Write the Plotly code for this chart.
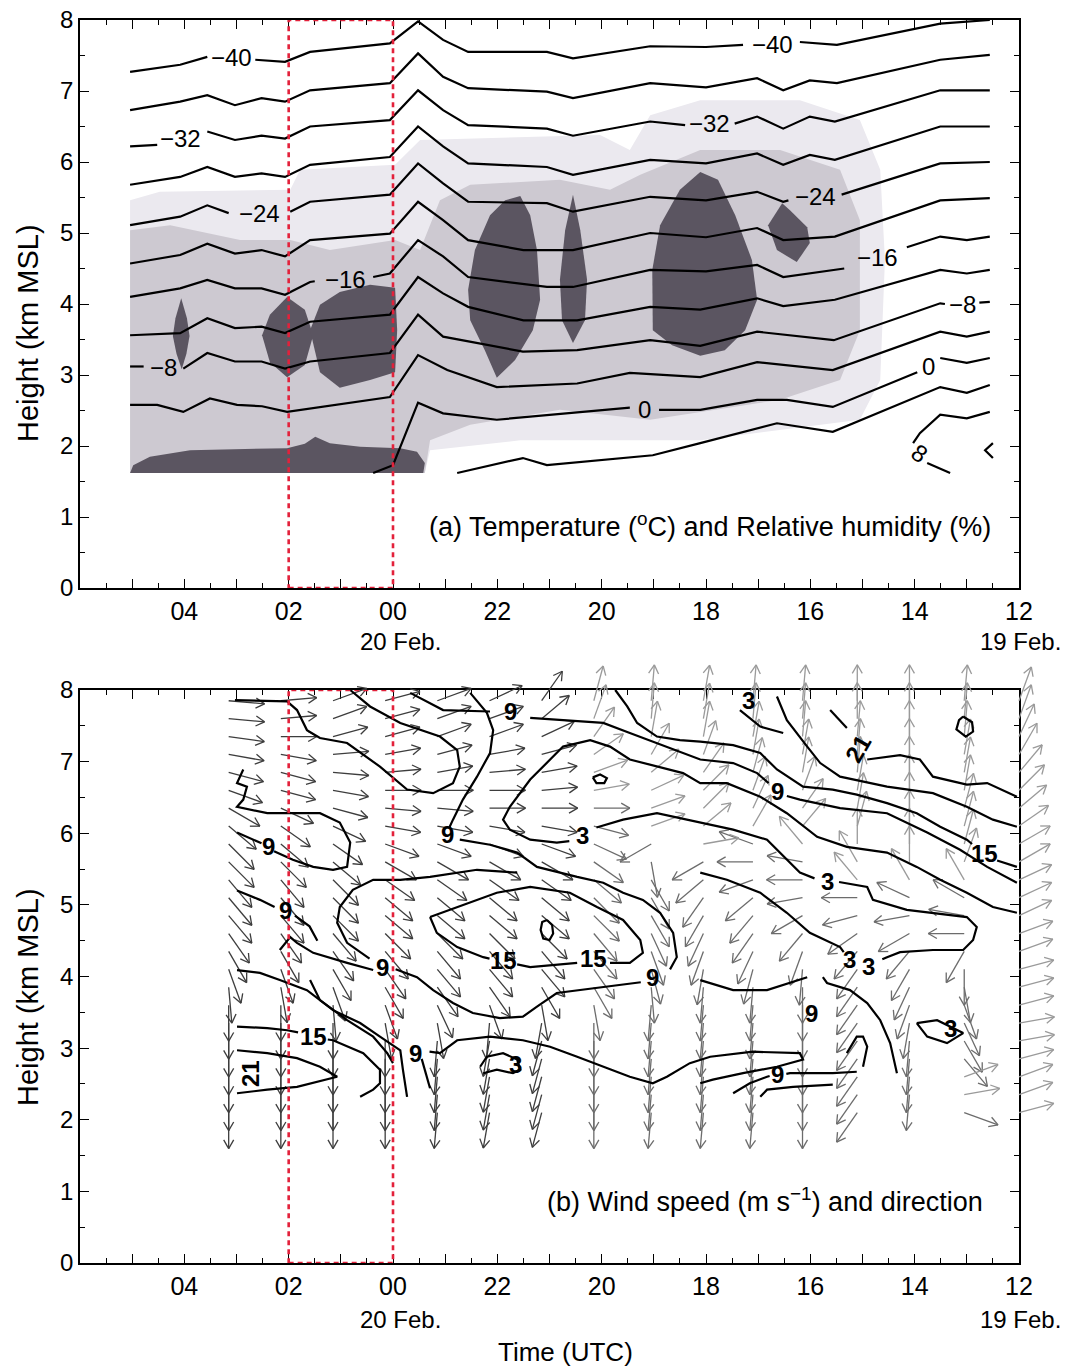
import math
import plotly.graph_objects as go

# ---------------------------------------------------------------- data
# time coordinate: hours after 12 UTC 19 Feb (axis drawn reversed)
TICK_HOURS = [17, 16, 15, 14, 13, 12, 11, 10, 9, 8, 7, 6, 5, 4, 3, 2, 1, 0]
TICK_TEXT = [" ", "04", " ", "02", " ", "00", " ", "22", " ", "20", " ", "18", " ", "16", " ", "14", " ", "12"]
MINOR_HOURS = [17.5, 16.5, 15.5, 14.5, 13.5, 12.5, 11.5, 10.5, 9.5, 8.5, 7.5, 6.5, 5.5, 4.5, 3.5, 2.5, 1.5, 0.5]
Y_TICKS = [0, 1, 2, 3, 4, 5, 6, 7, 8]
Y_MINOR = [0.5, 1.5, 2.5, 3.5, 4.5, 5.5, 6.5, 7.5]
DATE_LABELS = ["20 Feb.", "19 Feb."]
DATE_HOURS = [11.85, -0.84]
DATE_ANCHOR = ["center", "right"]
BOX_HOURS = [14, 12]          # red dashed period

# ---- (a) isotherms (hour, km); None = gap for label
ISO_M40 = [(17.04,7.27),(16.08,7.37),(15.56,7.48),None,(14.64,7.44),(14.07,7.41),(13.59,7.55),(12.06,7.67),(11.52,7.98),(11.04,7.72),(10.56,7.55),(9.05,7.55),(8.55,7.46),(7.07,7.63),(6.0,7.62),(5.29,7.65),None,(4.20,7.69),(3.49,7.65),(1.51,7.95),(0.56,8.0)]
ISO_M36 = [(17.04,6.73),(16.08,6.85),(15.56,6.94),(15.03,6.80),(14.52,6.90),(14.07,6.85),(13.59,7.01),(12.06,7.11),(11.52,7.53),(11.04,7.20),(10.56,7.04),(9.05,6.99),(8.55,6.90),(7.07,7.11),(6.0,7.05),(5.02,7.18),(4.52,7.01),(4.01,7.15),(3.49,7.11),(1.51,7.44),(0.56,7.51)]
ISO_M32 = [(17.04,6.22),(16.52,6.24),None,(15.56,6.43),(15.03,6.31),(14.52,6.37),(14.07,6.33),(13.59,6.50),(12.06,6.59),(11.52,7.01),(11.04,6.73),(10.56,6.52),(9.05,6.47),(8.55,6.37),(7.07,6.57),(6.40,6.52),None,(5.45,6.54),(5.02,6.64),(4.52,6.47),(4.01,6.64),(3.53,6.57),(1.51,7.01),(0.56,7.01)]
ISO_M28 = [(17.04,5.68),(16.08,5.79),(15.56,5.93),(15.03,5.79),(14.52,5.84),(14.07,5.79),(13.59,5.96),(12.06,6.07),(11.52,6.50),(11.04,6.22),(10.56,5.98),(9.05,5.93),(8.55,5.82),(7.07,6.03),(6.0,5.98),(5.02,6.12),(4.52,5.96),(4.01,6.10),(3.53,6.03),(1.51,6.50),(0.56,6.50)]
ISO_M24 = [(17.04,5.11),(16.08,5.23),(15.56,5.39),(15.15,5.28),None,(13.97,5.30),(13.59,5.44),(12.06,5.54),(11.52,5.98),(11.04,5.70),(10.56,5.44),(9.05,5.42),(8.55,5.30),(7.07,5.51),(6.0,5.46),(5.02,5.58),(4.52,5.44),(4.42,5.46),None,(3.40,5.54),(1.51,5.98),(0.56,6.00)]
ISO_M20 = [(17.04,4.57),(16.08,4.69),(15.56,4.85),(15.03,4.71),(14.52,4.76),(14.07,4.67),(13.59,4.90),(12.06,4.99),(11.52,5.44),(11.04,5.18),(10.56,4.90),(9.5,4.76),(8.55,4.76),(7.07,5.00),(6.0,4.94),(5.02,5.07),(4.52,4.90),(3.53,4.95),(1.51,5.46),(0.56,5.49)]
ISO_M16 = [(17.04,4.10),(16.08,4.22),(15.56,4.34),(15.03,4.22),(14.52,4.22),(14.07,4.13),(13.59,4.31),(13.50,4.32),None,(12.38,4.38),(12.06,4.43),(11.52,4.90),(11.04,4.67),(10.56,4.38),(9.05,4.24),(8.55,4.24),(7.07,4.48),(6.0,4.46),(5.02,4.55),(4.52,4.38),(3.35,4.50),None,(2.15,4.80),(1.51,4.95),(1.0,4.90),(0.56,4.95)]
ISO_M12 = [(17.04,3.56),(16.08,3.59),(15.56,3.80),(15.03,3.66),(14.52,3.68),(14.07,3.59),(13.59,3.75),(12.06,3.85),(11.52,4.38),(11.04,4.15),(10.56,3.96),(9.5,3.77),(8.47,3.77),(7.07,3.96),(6.11,3.92),(5.02,4.08),(4.52,3.97),(3.53,4.06),(1.51,4.48),(1.0,4.43),(0.56,4.48)]
ISO_M8 = [(17.04,3.12),(16.78,3.12),None,(16.02,3.09),(15.56,3.31),(15.03,3.19),(14.52,3.19),(14.07,3.09),(13.59,3.19),(12.06,3.31),(11.52,3.85),(11.04,3.54),(9.51,3.33),(8.47,3.35),(7.07,3.49),(6.11,3.41),(5.02,3.61),(3.55,3.49),(1.51,4.01),(1.42,4.0),None,(0.76,4.02),(0.56,4.03)]
ISO_M4 = [(17.04,2.58),(16.52,2.58),(16.02,2.48),(15.51,2.67),(14.99,2.58),(14.51,2.56),(14.03,2.48),(12.06,2.69),(11.52,3.28),(10.96,3.07),(10.01,2.83),(8.47,2.88),(7.46,3.03),(6.11,2.97),(5.02,3.18),(3.57,3.07),(1.51,3.61),(1.0,3.54),(0.56,3.61)]
ISO_0 = [(12.38,1.62),(12.0,1.73),(11.52,2.61),(11.04,2.46),(10.01,2.37),(7.46,2.54),None,(6.90,2.51),(6.11,2.51),(5.02,2.65),(4.45,2.65),(3.57,2.55),(1.95,3.04),None,(1.51,3.24),(1.0,3.17),(0.56,3.24)]
ISO_P4 = [(10.77,1.62),(9.51,1.83),(9.05,1.73),(7.02,1.87),(6.11,2.04),(4.64,2.32),(3.57,2.20),(1.51,2.83),(1.0,2.75),(0.56,2.86)]
ISO_P8 = [(0.56,2.48),(1.0,2.39),(1.51,2.44),(1.90,2.18),(2.03,2.04),None,(1.76,1.76),(1.32,1.62)]
ISO_P8B = [(0.50,2.04),(0.65,1.94),(0.50,1.83)]
ISOTHERMS = [ISO_M40, ISO_M36, ISO_M32, ISO_M28, ISO_M24, ISO_M20, ISO_M16, ISO_M12,
             ISO_M8, ISO_M4, ISO_0, ISO_P4, ISO_P8, ISO_P8B]
T_LABEL_TEXT = ["\u221240", "\u221240", "\u221232", "\u221232", "\u221224", "\u221224", "\u221216", "\u221216", "\u22128", "\u22128", "0", "0", "8"]
T_LABEL_X = [15.09, 4.72, 16.08, 5.93, 14.55, 3.91, 12.92, 2.72, 16.40, 1.08, 7.17, 1.74, 1.90]
T_LABEL_Z = [7.47, 7.66, 6.33, 6.54, 5.28, 5.51, 4.35, 4.66, 3.11, 4.00, 2.52, 3.12, 1.90]
T_LABEL_ANGLE = [0, 0, 0, 0, 0, 0, 0, 0, 0, 0, 0, 0, 35]

# ---- (a) relative humidity shading polygons
RH_LIGHT = [(17.04,1.62),(17.04,5.46),(16.47,5.58),(13.97,5.61),(13.78,5.89),(11.96,5.96),(11.48,6.31),(8.03,6.38),(7.46,6.17),(7.07,6.66),(6.11,6.87),(4.20,6.87),(3.05,6.59),(2.66,5.89),(2.57,4.62),(2.66,2.93),(3.05,2.37),(6.11,2.08),(9.56,2.08),(11.29,1.94),(11.39,1.62)]
RH_MED = [(17.04,1.62),(17.04,5.04),(16.27,5.11),(14.93,4.90),(13.97,4.90),(13.21,4.76),(11.96,4.90),(11.48,4.76),(11.10,5.46),(10.52,5.68),(8.80,5.75),(7.84,5.61),(7.26,5.82),(6.11,6.17),(4.58,6.17),(3.43,5.89),(3.05,5.18),(3.05,3.63),(3.43,2.93),(4.58,2.65),(7.07,2.37),(8.80,2.51),(10.52,2.30),(11.29,2.08),(11.39,1.62)]
RH_DARK_BAND = [(17.04,1.62),(16.98,1.73),(16.66,1.85),(15.89,1.94),(14.03,1.97),(13.69,2.03),(13.49,2.13),(13.21,2.04),(12.63,1.99),(11.86,1.97),(11.54,1.92),(11.39,1.76),(11.42,1.62)]
RH_DARK_1 = [(16.06,4.08),(15.95,3.80),(15.90,3.55),(15.96,3.30),(16.05,3.08),(16.15,3.30),(16.22,3.55),(16.17,3.80)]
RH_DARK_2 = [(14.51,3.56),(14.36,3.85),(14.03,4.10),(13.69,3.92),(13.53,3.56),(13.69,3.14),(14.03,2.97),(14.36,3.18)]
RH_DARK_3 = [(13.59,3.63),(13.40,3.99),(13.02,4.17),(12.44,4.27),(11.96,4.23),(11.92,3.63),(11.96,3.04),(12.44,2.93),(13.02,2.82),(13.40,3.04)]
RH_DARK_4 = [(10.01,2.96),(10.24,3.35),(10.52,3.77),(10.56,4.20),(10.43,4.76),(10.14,5.25),(9.85,5.46),(9.56,5.52),(9.37,5.25),(9.24,4.76),(9.18,4.06),(9.32,3.63),(9.66,3.21)]
RH_DARK_5 = [(8.55,5.54),(8.41,5.04),(8.28,4.34),(8.32,3.77),(8.55,3.45),(8.76,3.77),(8.80,4.34),(8.70,5.04)]
RH_DARK_6 = [(7.02,3.63),(7.03,4.48),(6.88,5.11),(6.50,5.61),(6.11,5.86),(5.77,5.75),(5.44,5.25),(5.12,4.62),(5.02,4.06),(5.25,3.63),(5.64,3.35),(6.11,3.27),(6.65,3.42)]
RH_DARK_7 = [(4.54,5.42),(4.39,5.32),(4.06,5.08),(4.01,4.86),(4.26,4.59),(4.64,4.76),(4.81,5.11)]
RH_DARK = [RH_DARK_BAND, RH_DARK_1, RH_DARK_2, RH_DARK_3, RH_DARK_4, RH_DARK_5, RH_DARK_6, RH_DARK_7]

# ---- (b) wind-speed isotachs (hour, km)
WS_01 = [(12.82,8.0),(12.44,7.77),(11.86,7.54),(11.10,7.35),(10.77,7.16),(10.72,6.93),(10.85,6.70),(11.23,6.56),(11.73,6.61),(12.25,6.93),(12.88,7.26),(13.40,7.33),(13.65,7.44),(13.84,7.72),(14.03,7.84),(15.03,7.86)]
WS_02 = [(11.67,7.96),(11.04,7.72),(10.14,7.70),None,(9.37,7.61),(7.97,7.54),(7.46,7.40),(6.94,7.26),(6.11,7.03),(5.48,6.98),(5.02,6.84),(4.80,6.70),None,(4.45,6.52),(4.20,6.47),(3.43,6.35),(2.53,6.28),(1.76,6.01),(1.13,5.77),(0.61,5.53),(0.04,5.31)]
WS_03 = [(7.74,8.0),(7.51,7.77),(7.32,7.54),(6.94,7.35),(6.50,7.30),(6.11,7.28),(5.48,7.23),(4.96,7.12),(4.64,6.89),(4.14,6.65),(3.57,6.61),(3.11,6.54),(2.53,6.42),(1.96,6.28),(1.51,6.09),(1.0,5.91),(0.90,5.85),None,(0.42,5.62),(0.04,5.53)]
WS_04 = [(3.62,7.72),(3.30,7.47),None,(2.91,7.03),(2.28,7.09),(1.90,7.03),(1.65,6.79),(1.00,6.68),(0.61,6.70),(0.04,6.51)]
WS_05 = [(4.64,7.91),(4.45,7.58),(4.06,7.21),(3.81,6.98),(3.43,6.79),(2.53,6.65),(1.65,6.56),(1.00,6.37),(0.50,6.19),(0.04,6.09)]
WS_06 = [(5.35,7.72),(4.96,7.49),(4.52,7.40)]
WS_07 = [(0.04,4.89),(0.50,4.97),(1.00,5.17),(1.51,5.35),(1.96,5.53),(2.53,5.73),(3.30,5.81),(3.87,5.95),(4.45,6.28),(4.96,6.51),(5.60,6.70),(6.11,6.70),(6.44,6.84),(6.94,6.93),(7.46,7.03),(7.84,7.21),(8.22,7.30),(8.74,7.21),(9.05,6.98),(9.37,6.75),(9.76,6.37),(9.89,6.19),(9.76,6.05),(9.37,5.91),(8.86,5.87),(8.62,5.89),None,(8.10,6.08),(7.59,6.19),(6.94,6.28),(6.11,6.15),(5.48,6.05),(4.83,5.91),(4.45,5.63),(4.20,5.45),(3.92,5.37),None,(3.45,5.32),(2.91,5.25),(2.80,5.07),(2.15,4.93),(1.00,4.83),(0.81,4.69),(0.88,4.51),(1.07,4.37),(1.65,4.37),(2.28,4.34),(2.53,4.27),(2.62,4.24)]
WS_08 = [(6.11,5.45),(5.60,5.35),(4.96,5.17),(4.45,4.89),(4.01,4.61),(3.43,4.41),(3.36,4.34)]
WS_09 = [(10.52,7.96),(10.20,7.68),(10.08,7.44),(10.14,7.12),(10.39,6.79),(10.66,6.47),(10.85,6.19),(10.92,6.08),None,(10.72,5.91),(10.14,5.84),(9.62,5.73),(9.24,5.53),(8.47,5.39),(7.97,5.31),(7.59,5.17),(7.21,5.07),(6.88,4.89),(6.63,4.61),(6.56,4.27),(6.69,4.10),None,(7.25,3.92),(7.97,3.85),(8.86,3.77),(9.24,3.58),(9.51,3.44),(9.95,3.42),(10.47,3.49),(10.85,3.63),(11.23,3.81),(11.54,3.99),(11.95,4.10)]
WS_10 = [(12.45,4.25),(12.88,4.47),(13.07,4.75),(13.02,4.97),(12.77,5.21),(12.38,5.35),(11.86,5.35),(11.29,5.39),(10.39,5.49),(9.62,5.45)]
WS_11 = [(11.29,4.83),(10.77,4.97),(10.01,5.17),(9.37,5.25),(8.61,5.17),(8.09,4.97),(7.59,4.79),(7.26,4.51),(7.21,4.33),(7.46,4.19),(7.84,4.19),None,(8.47,4.19),(9.37,4.13),(9.62,4.17),None,(10.15,4.25),(10.27,4.27),(10.77,4.41),(11.16,4.61),(11.29,4.83)]
WS_12 = [(14.87,6.89),(14.99,6.70),(14.80,6.65),(14.87,6.47),(14.99,6.37),(14.41,6.28),(13.40,6.28),(13.02,6.15),(12.82,5.87),(12.88,5.53),(13.15,5.49),(13.53,5.53),(13.92,5.63),(14.22,5.73),(14.28,5.75),None,(14.52,5.86),(14.99,6.01)]
WS_13 = [(14.99,5.20),(14.55,5.07),(14.27,4.97),None,(13.88,4.85),(13.60,4.70),(13.45,4.50)]
WS_14 = [(14.17,4.37),(13.97,4.55),(13.84,4.47),(13.53,4.33),(12.88,4.19),(12.38,4.09)]
WS_15 = [(14.99,4.09),(14.55,4.05),(14.17,3.95),(13.65,3.81),(13.15,3.53),(12.63,3.35),(12.25,3.16),(11.86,2.97),(11.81,2.70),(11.73,2.32)]
WS_16 = [(13.59,3.95),(13.40,3.67),(12.88,3.39),(12.38,3.16),(12.11,2.93),(12.0,2.79)]
WS_17 = [(14.99,3.30),(14.41,3.28),(14.03,3.25),(13.82,3.22),None,(13.25,3.12),(13.15,3.11),(12.57,2.93),(12.25,2.70),(12.25,2.51),(12.38,2.42),(12.63,2.32)]
WS_18 = [(14.99,2.97),(14.41,2.93),(13.84,2.86),(13.40,2.74),(13.07,2.60),(13.84,2.46),(14.41,2.42),(14.99,2.37)]
WS_19 = [(11.29,2.44),(11.35,2.60),(11.45,2.85)]
WS_20 = [(11.30,2.95),(11.10,2.93),(10.77,3.11),(10.14,3.16),(9.51,3.11),(8.99,3.02),(8.47,2.88),(7.97,2.74),(7.46,2.60),(7.02,2.51),(6.75,2.60),(6.31,2.79),(5.92,2.88),(5.10,2.95),(4.20,2.93),(4.14,2.84),(4.64,2.74),(5.29,2.65),(5.87,2.56),(6.11,2.51)]
WS_21 = [(10.33,2.74),(10.20,2.88),(9.89,2.93),(9.62,2.84),(9.56,2.70),(9.70,2.65),(10.01,2.70),(10.27,2.65)]
WS_22 = [(5.48,2.37),(5.16,2.51),(4.83,2.60),(4.78,2.61),None,(4.46,2.64),(4.39,2.65),(3.57,2.65),(3.11,2.67)]
WS_23 = [(4.96,2.32),(4.83,2.42),(4.33,2.46),(3.57,2.49)]
WS_24 = [(6.11,3.95),(5.48,3.81),(4.83,3.81),(4.39,3.91),(4.06,3.99)]
WS_25 = [(3.76,3.99),(3.68,3.91),(3.24,3.81),(2.91,3.63),(2.66,3.39),(2.47,3.07),(2.34,2.65)]
WS_26 = [(3.30,2.93),(3.11,3.16),(2.99,3.16),(2.91,3.02),(2.99,2.74)]
WS_27 = [(1.96,3.35),(1.57,3.39),(1.07,3.21),(1.38,3.07),(1.76,3.16),(1.96,3.35)]
WS_28 = [(9.05,4.79),(8.95,4.72),(8.93,4.60),(9.0,4.51),(9.12,4.53),(9.17,4.65),(9.14,4.76),(9.05,4.79)]
WS_29 = [(8.17,6.78),(8.03,6.82),(7.90,6.77),(7.95,6.70),(8.10,6.70),(8.17,6.78)]
WS_30 = [(1.07,7.63),(0.90,7.55),(0.88,7.42),(1.02,7.35),(1.20,7.45),(1.15,7.58),(1.07,7.63)]
ISOTACHS = [WS_01, WS_02, WS_03, WS_04, WS_05, WS_06, WS_07, WS_08, WS_09, WS_10, WS_11, WS_12,
            WS_13, WS_14, WS_15, WS_16, WS_17, WS_18, WS_19, WS_20, WS_21, WS_22, WS_23, WS_24,
            WS_25, WS_26, WS_27, WS_28, WS_29, WS_30]
W_LABEL_TEXT = ["9", "3", "21", "9", "3", "9", "15", "9", "3", "9", "15", "15", "9", "9", "3", "3", "9", "15", "3", "9", "3", "21", "9"]
W_LABEL_X = [9.74, 5.18, 3.08, 4.63, 8.36, 10.95, 0.66, 14.39, 3.68, 14.07, 9.89, 8.15, 7.03, 12.21, 3.24, 2.88, 3.98, 13.53, 1.32, 11.56, 9.66, 14.72, 4.62]
W_LABEL_Z = [7.70, 7.86, 7.18, 6.58, 5.97, 5.98, 5.72, 5.81, 5.33, 4.92, 4.22, 4.25, 3.99, 4.12, 4.24, 4.14, 3.48, 3.16, 3.28, 2.93, 2.77, 2.64, 2.63]
W_LABEL_ANGLE = [0, 0, -60, 0, 0, 0, 0, 0, 0, 0, 0, 0, 0, 0, 0, 0, 0, 0, 0, 0, 0, -90, 0]

# ---- (b) wind arrows: column times (hours), heights (km), pointing angle (deg, 0 = east, 90 = up)
ARROW_COLS = [15.15, 14.15, 13.15, 12.15, 11.15, 10.15, 9.15, 8.15, 7.05, 6.05, 5.1, 4.15, 3.1, 2.1, 1.05, 0.0]
ARROW_Z = [2.1, 2.35, 2.6, 2.85, 3.1, 3.35, 3.6, 3.85, 4.1, 4.35, 4.6, 4.85, 5.1, 5.35, 5.6, 5.85, 6.1, 6.35, 6.6, 6.85, 7.1, 7.35, 7.6, 7.85]
DIR_01 = [-90,-90,-90,-90,-90,-90,-90,-85,-70,-60,-55,-50,-50,-50,-45,-45,-40,-30,-20,-15,-10,-8,-5,-5]
DIR_02 = [-90,-90,-90,-90,-90,-90,-90,-80,-70,-60,-55,-50,-50,-50,-45,-40,-35,-25,-15,-15,-10,0,5,5]
DIR_03 = [-90,-90,-90,-90,-90,-90,-85,-70,-60,-55,-50,-45,-45,-45,-40,-35,-25,-15,-10,-5,5,15,20,20]
DIR_04 = [-90,-90,-90,-90,-90,-80,-70,-60,-55,-50,-45,-40,-40,-35,-30,-20,-10,-5,0,5,10,15,15,15]
DIR_05 = [-95,-95,-95,-95,-95,-80,-65,-55,-50,-50,-45,-40,-40,-35,-30,-20,-10,-5,0,10,15,20,20,20]
DIR_06 = [-100,-100,-100,-100,-100,-95,-70,-55,-50,-50,-45,-40,-40,-35,-30,-20,-10,0,0,5,10,20,20,25]
DIR_07 = [-105,-105,-105,-105,-105,-100,-80,-60,-50,-50,-45,-40,-40,-35,-30,-20,-10,0,5,10,15,25,40,55]
DIR_08 = [-90,-90,-90,-90,-90,-90,-80,-60,-55,-50,-50,-45,-45,-40,-35,-25,-15,0,10,20,35,55,70,75]
DIR_09 = [-95,-95,-95,-95,-95,-95,-95,-85,-75,-70,-65,-60,-60,-60,-80,-150,20,20,25,40,60,80,85,85]
DIR_10 = [-95,-95,-95,-95,-95,-95,-95,-95,-100,-110,-115,-120,-125,-140,-150,10,40,45,45,55,70,80,80,80]
DIR_11 = [-95,-95,-95,-95,-95,-95,-95,-95,-105,-115,-125,-130,-140,-160,180,160,60,65,70,75,80,80,85,85]
DIR_12 = [-90,-90,-90,-90,-90,-90,-90,-90,-95,-110,-130,-150,-170,180,170,130,50,55,70,80,80,85,85,85]
DIR_13 = [-125,-125,-125,-125,-125,-125,-125,-125,-125,-130,-145,-165,180,130,120,90,75,80,80,85,85,85,90,90]
DIR_14 = [None,-95,-95,-95,-95,-100,-110,-115,-120,-130,-150,-170,155,120,90,90,90,90,90,90,90,90,90,90]
DIR_15 = [-20,10,20,-50,-60,-65,-70,-80,-90,-120,180,170,150,120,70,75,75,75,80,80,80,85,85,85]
DIR_16 = [15,20,20,15,10,10,15,15,15,20,20,25,25,25,30,30,35,40,45,50,60,65,70,70]
ARROW_DIRS = [DIR_01, DIR_02, DIR_03, DIR_04, DIR_05, DIR_06, DIR_07, DIR_08,
              DIR_09, DIR_10, DIR_11, DIR_12, DIR_13, DIR_14, DIR_15, DIR_16]

# ---------------------------------------------------------------- layout geometry
# page body adds an 8 px margin, so the figure is laid out 8 px up/left of the screen target
OFF = 8
W, H = 1077 - OFF, 1370 - OFF
ML, MR, MT = 80 - OFF, 12, 20 - OFF
FRAME_BOTTOM = 1263 - OFF
MB = H - FRAME_BOTTOM
PW, PH = W - ML - MR, H - MT - MB
AX_RIGHT = 1019 - OFF
XDOM = [0, (AX_RIGHT - ML) / PW]
PX_PER_H = (AX_RIGHT - ML) / 18.0


def py_to_paper(screen_py):
    return (FRAME_BOTTOM - (screen_py - OFF)) / PH


TOP_DOM = [py_to_paper(588), 1.0]
BOT_DOM = [0, py_to_paper(690)]
PX_PER_KM_B = (BOT_DOM[1] * PH) / 8.0
ARW_YDOM = [0, py_to_paper(655)]

FONT = "Liberation Sans, Arial, Helvetica, sans-serif"
BLACK = "black"


def split(points):
    xs, ys = [], []
    for p in points:
        if p is None:
            xs.append(None); ys.append(None)
        else:
            xs.append(p[0]); ys.append(p[1])
    return xs, ys


fig = go.Figure()

# ---- (a) shading
for poly, col in [(RH_LIGHT, "#ebe9ef"), (RH_MED, "#cdc9d1")] + [(p, "#5b5561") for p in RH_DARK]:
    xs, ys = split(poly)
    fig.add_trace(go.Scatter(x=xs, y=ys, xaxis="x", yaxis="y", mode="lines", fill="toself",
                             fillcolor=col, line=dict(width=0, color=col), hoverinfo="skip",
                             showlegend=False))
# ---- (a) isotherms
for iso in ISOTHERMS:
    xs, ys = split(iso)
    fig.add_trace(go.Scatter(x=xs, y=ys, xaxis="x", yaxis="y", mode="lines",
                             line=dict(color=BLACK, width=2.2), hoverinfo="skip", showlegend=False))

# ---- (b) arrows on an overlay axis that extends past the frame
ax3_range = [18.0, 18.0 - PW / PX_PER_H]
ay3_range = [0, ARW_YDOM[1] * PH / PX_PER_KM_B]
L_PX, HEAD_PX, HEAD_ANG = 36.0, 10.0, math.radians(30)
groups = {"#3d3d3d": ([], []), "#6c6c6c": ([], []), "#9a9a9a": ([], [])}
for cx, dirs in zip(ARROW_COLS, ARROW_DIRS):
    for z, a in zip(ARROW_Z, dirs):
        if a is None:
            continue
        r = math.radians(a)
        x1 = cx - L_PX * math.cos(r) / PX_PER_H
        z1 = z + L_PX * math.sin(r) / PX_PER_KM_B
        pts = [(cx, z), (x1, z1), None]
        for s in (1, -1):
            rb = r + math.pi + s * HEAD_ANG
            bx = x1 - HEAD_PX * math.cos(rb) / PX_PER_H
            bz = z1 + HEAD_PX * math.sin(rb) / PX_PER_KM_B
            pts += [(x1, z1), (bx, bz), None]
        if cx >= 9:
            key = "#3d3d3d"
        elif 0 < a < 135:
            key = "#9a9a9a"
        else:
            key = "#6c6c6c"
        gx, gy = groups[key]
        for p in pts:
            if p is None:
                gx.append(None); gy.append(None)
            else:
                gx.append(p[0]); gy.append(p[1])
for col, (gx, gy) in groups.items():
    fig.add_trace(go.Scatter(x=gx, y=gy, xaxis="x3", yaxis="y3", mode="lines",
                             line=dict(color=col, width=1.3), hoverinfo="skip", showlegend=False))

# ---- (b) isotachs (same overlay axis so they sit over the arrows)
for ws in ISOTACHS:
    xs, ys = split(ws)
    fig.add_trace(go.Scatter(x=xs, y=ys, xaxis="x3", yaxis="y3", mode="lines",
                             line=dict(color=BLACK, width=2.2), hoverinfo="skip", showlegend=False))

# ---------------------------------------------------------------- annotations
ann = []
for t, x, z, ang in zip(T_LABEL_TEXT, T_LABEL_X, T_LABEL_Z, T_LABEL_ANGLE):
    ann.append(dict(x=x, y=z, xref="x", yref="y", text=t, showarrow=False, textangle=ang,
                    font=dict(family=FONT, size=24, color=BLACK)))
for t, x, z, ang in zip(W_LABEL_TEXT, W_LABEL_X, W_LABEL_Z, W_LABEL_ANGLE):
    ann.append(dict(x=x, y=z, xref="x3", yref="y3", text="<b>" + t + "</b>", showarrow=False,
                    textangle=ang, font=dict(family=FONT, size=24, color=BLACK)))
ann.append(dict(x=0.5, y=0.89, xref="x", yref="y", xanchor="right", yanchor="middle", showarrow=False,
                text="(a) Temperature (<sup>o</sup>C) and Relative humidity (%)",
                font=dict(family=FONT, size=27, color=BLACK)))
ann.append(dict(x=0.65, y=0.88, xref="x2", yref="y2", xanchor="right", yanchor="middle", showarrow=False,
                text="(b) Wind speed (m s<sup>\u22121</sup>) and direction",
                font=dict(family=FONT, size=27, color=BLACK)))
# date labels use the wide overlay time axis (x3), whose range reaches past the right frame
for ypix in (641, 1319):
    for txt, hx, anc in zip(DATE_LABELS, DATE_HOURS, DATE_ANCHOR):
        ann.append(dict(x=hx, y=py_to_paper(ypix), xref="x3", yref="paper", text=txt,
                        xanchor=anc, yanchor="middle", showarrow=False,
                        font=dict(family=FONT, size=24, color=BLACK)))
ann.append(dict(x=8.7, y=py_to_paper(1352), xref="x3", yref="paper", text="Time (UTC)",
                yanchor="middle", showarrow=False, font=dict(family=FONT, size=26, color=BLACK)))
for ypix in (333, 997):
    ann.append(dict(x=(28 - 80) / PW, y=py_to_paper(ypix), xref="paper", yref="paper",
                    text="Height (km MSL)", textangle=-90, xanchor="center", yanchor="middle",
                    showarrow=False, font=dict(family=FONT, size=29, color=BLACK)))

shapes = []
for xr, yr in [("x", "y"), ("x2", "y2")]:
    shapes.append(dict(type="rect", xref=xr, yref=yr, x0=BOX_HOURS[0], x1=BOX_HOURS[1], y0=0, y1=8,
                       line=dict(color="#e3213b", width=2.6, dash="5px,4px"), layer="above"))


def xaxis(anchor):
    return dict(range=[18, 0], domain=XDOM, anchor=anchor, tickmode="array", automargin=False,
                tickvals=TICK_HOURS, ticktext=TICK_TEXT, ticks="inside", ticklen=9, tickwidth=1.3,
                tickcolor=BLACK, minor=dict(tickmode="array", tickvals=MINOR_HOURS, ticks="inside",
                                            ticklen=5, tickwidth=1.2, tickcolor=BLACK),
                ticklabeloverflow="allow",
                showline=True, linecolor=BLACK, linewidth=1.5, mirror="allticks", showgrid=False,
                zeroline=False, tickfont=dict(family=FONT, size=25, color=BLACK))


def yaxis(dom, anchor):
    return dict(range=[0, 8], domain=dom, anchor=anchor, tickmode="array", tickvals=Y_TICKS,
                automargin=False, ticks="inside", ticklen=9, tickwidth=1.3, tickcolor=BLACK,
                minor=dict(tickmode="array", tickvals=Y_MINOR, ticks="inside", ticklen=5,
                           tickwidth=1.2, tickcolor=BLACK), ticklabeloverflow="allow",
                showline=True, linecolor=BLACK, linewidth=1.5, mirror="allticks", showgrid=False,
                zeroline=False, tickfont=dict(family=FONT, size=24, color=BLACK))


fig.update_layout(
    width=W, height=H, margin=dict(l=ML, r=MR, t=MT, b=MB, autoexpand=False),
    paper_bgcolor="white", plot_bgcolor="rgba(0,0,0,0)", showlegend=False,
    xaxis=xaxis("y"), yaxis=yaxis(TOP_DOM, "x"),
    xaxis2=xaxis("y2"), yaxis2=yaxis(BOT_DOM, "x2"),
    xaxis3=dict(range=ax3_range, domain=[0, 1], anchor="y3", visible=False, automargin=False),
    yaxis3=dict(range=ay3_range, domain=ARW_YDOM, anchor="x3", visible=False, automargin=False),
    annotations=ann, shapes=shapes,
)

fig.write_html("out.html")
